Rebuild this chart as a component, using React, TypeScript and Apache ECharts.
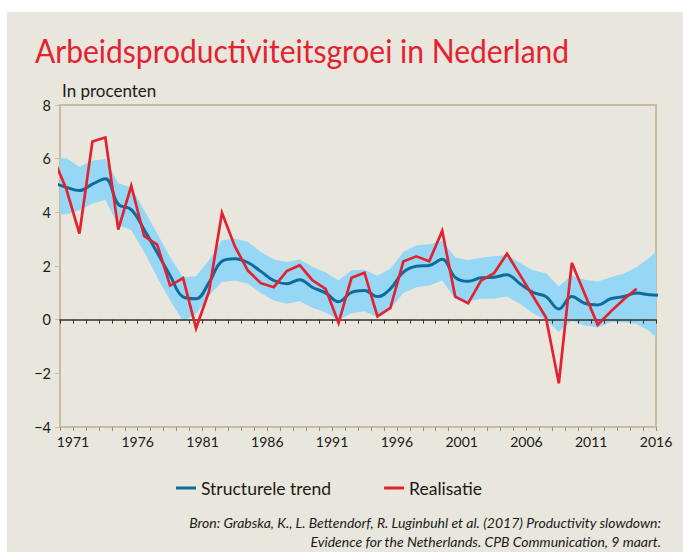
import React, { useEffect, useRef } from 'react';
import * as echarts from 'echarts';

// Years of the trend and its band (1970 and 2017 lie just outside the axis and are clipped)
const trendYears = [
  1970, 1971, 1972, 1973, 1974, 1975, 1976, 1977, 1978, 1979,
  1980, 1981, 1982, 1983, 1984, 1985, 1986, 1987, 1988, 1989,
  1990, 1991, 1992, 1993, 1994, 1995, 1996, 1997, 1998, 1999,
  2000, 2001, 2002, 2003, 2004, 2005, 2006, 2007, 2008, 2009,
  2010, 2011, 2012, 2013, 2014, 2015, 2016, 2017,
];
const trendValues = [
  5.1, 4.93, 4.81, 5.05, 5.25, 4.3, 4.1, 3.35, 2.5, 1.65,
  0.85, 0.78, 1.38, 2.18, 2.27, 2.13, 1.8, 1.46, 1.34, 1.49,
  1.2, 1.0, 0.67, 1.02, 1.09, 0.86, 1.15, 1.77, 1.99, 2.02,
  2.25, 1.58, 1.43, 1.56, 1.58, 1.67, 1.34, 1.02, 0.86, 0.4,
  0.86, 0.61, 0.55, 0.78, 0.86, 0.99, 0.93, 0.9,
];
const bandUpper = [
  6.02, 6.02, 5.7, 5.92, 5.99, 5.08, 4.93, 4.08, 3.21, 2.33,
  1.58, 1.62, 2.21, 2.96, 3.02, 2.9, 2.52, 2.24, 2.15, 2.24,
  1.96, 1.77, 1.46, 1.84, 1.86, 1.64, 1.9, 2.52, 2.77, 2.81,
  2.93, 2.33, 2.21, 2.31, 2.36, 2.4, 2.11, 1.84, 1.73, 1.24,
  1.65, 1.49, 1.42, 1.58, 1.71, 1.96, 2.3, 2.8,
];
const bandLower = [
  3.92, 3.92, 4.08, 4.33, 4.46, 3.52, 3.33, 2.52, 1.58, 0.71,
  -0.05, 0.21, 0.9, 1.4, 1.46, 1.34, 0.99, 0.71, 0.59, 0.69,
  0.44, 0.27, 0.0, 0.24, 0.31, 0.09, 0.4, 0.99, 1.21, 1.27,
  1.46, 0.78, 0.69, 0.78, 0.78, 0.86, 0.59, 0.24, -0.01, -0.45,
  -0.04, -0.22, -0.29, -0.1, -0.1, -0.16, -0.42, -0.9,
];

// Realised productivity growth (1970 lies just outside the axis and is clipped)
const realYears = [
  1970, 1971, 1972, 1973, 1974, 1975, 1976, 1977, 1978, 1979,
  1980, 1981, 1982, 1983, 1984, 1985, 1986, 1987, 1988, 1989,
  1990, 1991, 1992, 1993, 1994, 1995, 1996, 1997, 1998, 1999,
  2000, 2001, 2002, 2003, 2004, 2005, 2006, 2007, 2008, 2009,
  2010, 2011, 2012, 2013, 2014, 2015,
];
const realValues = [
  6.0, 4.85, 3.21, 6.64, 6.79, 3.36, 4.99, 3.11, 2.8, 1.27,
  1.55, -0.32, 1.05, 3.98, 2.73, 1.83, 1.36, 1.21, 1.81, 2.03,
  1.46, 1.15, -0.12, 1.56, 1.75, 0.12, 0.44, 2.17, 2.36, 2.18,
  3.31, 0.86, 0.61, 1.46, 1.73, 2.46, 1.67, 0.88, 0.09, -2.37,
  2.12, 0.96, -0.19, 0.3, 0.75, 1.15,
];

const xLabelYears = [1971, 1976, 1981, 1986, 1991, 1996, 2001, 2006, 2011, 2016];

const seriesNames = ['Structurele trend', 'Realisatie'];
const titleText = 'Arbeidsproductiviteitsgroei in Nederland';
const unitText = 'In procenten';
const sourceLines = [
  'Bron: Grabska, K., L. Bettendorf, R. Luginbuhl et al. (2017) Productivity slowdown:',
  'Evidence for the Netherlands. CPB Communication, 9 maart.',
];

// each year's value is drawn in the middle of its year band
const pos = (y: number) => y - 0.5;

const FONT = 'Lato, "Noto Sans", sans-serif';
const TAN = '#c9bb9f';
const DARK = '#3b2f28';
const BLUE = '#0d6c9b';
const RED = '#e4222f';
const BAND = '#96d7f5';

export default function App() {
  const ref = useRef<HTMLDivElement>(null);

  useEffect(() => {
    if (!ref.current) return;
    const chart = echarts.init(ref.current, undefined, { renderer: 'svg' });

    const option: any = {
      animation: false,
      textStyle: { fontFamily: FONT },
      grid: {
        left: 60,
        right: 27,
        top: 105,
        bottom: 125,
        show: true,
        borderColor: TAN,
        borderWidth: 2,
        backgroundColor: 'transparent',
      },
      xAxis: [
        {
          type: 'value',
          min: 1970,
          max: 2016,
          interval: 1,
          position: 'bottom',
          axisLine: { show: false, onZero: false },
          axisTick: { show: true, length: 4, lineStyle: { color: '#9c8e78', width: 1 } },
          axisLabel: {
            margin: 7,
            fontSize: 14,
            color: '#1a1a1a',
            fontFamily: FONT,
            showMinLabel: true,
            showMaxLabel: true,
            formatter: (v: number) => (xLabelYears.indexOf(v) >= 0 ? String(v) : ''),
          },
          splitLine: { show: false },
        },
        {
          type: 'value',
          min: 1970,
          max: 2016,
          interval: 1,
          position: 'bottom',
          z: 2,
          axisLine: { show: true, onZero: true, lineStyle: { color: DARK, width: 1.5 } },
          axisTick: { show: true, length: 4, lineStyle: { color: DARK, width: 1 } },
          axisLabel: { show: false },
          splitLine: { show: false },
        },
      ],
      yAxis: {
        type: 'value',
        min: -4,
        max: 8,
        interval: 2,
        axisLine: { show: true, lineStyle: { color: TAN, width: 2 } },
        axisTick: { show: true, length: 5, lineStyle: { color: TAN, width: 1 } },
        axisLabel: {
          margin: 9,
          fontSize: 14.5,
          color: '#1a1a1a',
          fontFamily: FONT,
          formatter: (v: number) => (v < 0 ? '\u2212' + Math.abs(v) : String(v)),
        },
        splitLine: { show: false },
      },
      legend: {
        left: 171,
        top: 474,
        itemWidth: 20,
        itemHeight: 3,
        itemGap: 53,
        icon: 'rect',
        data: seriesNames,
        textStyle: { fontSize: 17.5, color: '#1a1a1a', fontFamily: FONT },
      },
      graphic: [
        {
          type: 'text',
          x: 35,
          y: 50,
          scaleX: 0.91,
          style: {
            text: titleText,
            fill: RED,
            fontSize: 33,
            fontFamily: FONT,
            align: 'left',
            verticalAlign: 'middle',
          },
        },
        {
          type: 'text',
          x: 62,
          y: 90,
          style: {
            text: unitText,
            fill: '#1a1a1a',
            fontSize: 17,
            fontFamily: FONT,
            align: 'left',
            verticalAlign: 'middle',
          },
        },
        {
          type: 'text',
          x: 661,
          y: 522,
          style: {
            text: sourceLines[0],
            fill: '#1a1a1a',
            fontSize: 14,
            fontStyle: 'italic',
            fontFamily: FONT,
            align: 'right',
            verticalAlign: 'middle',
          },
        },
        {
          type: 'text',
          x: 661,
          y: 541,
          style: {
            text: sourceLines[1],
            fill: '#1a1a1a',
            fontSize: 14,
            fontStyle: 'italic',
            fontFamily: FONT,
            align: 'right',
            verticalAlign: 'middle',
          },
        },
      ],
      series: [
        {
          type: 'custom',
          z: 1,
          silent: true,
          clip: true,
          xAxisIndex: 0,
          yAxisIndex: 0,
          data: trendYears.map((y, i) => [pos(y), bandLower[i], bandUpper[i]]),
          encode: { x: 0, y: [1, 2] },
          renderItem: (params: any, api: any) => {
            if (params.dataIndex !== 1) return null;
            const up = trendYears.map((y, i) => api.coord([pos(y), bandUpper[i]]));
            const lo = trendYears.map((y, i) => api.coord([pos(y), bandLower[i]])).reverse();
            return {
              type: 'polygon',
              shape: { points: up.concat(lo) },
              style: { fill: BAND },
            };
          },
        },
        {
          name: seriesNames[0],
          type: 'line',
          z: 3,
          xAxisIndex: 0,
          smooth: 0.4,
          symbol: 'none',
          showSymbol: false,
          data: trendYears.map((y, i) => [pos(y), trendValues[i]]),
          lineStyle: { color: BLUE, width: 3 },
          itemStyle: { color: BLUE },
        },
        {
          name: seriesNames[1],
          type: 'line',
          z: 4,
          xAxisIndex: 0,
          symbol: 'none',
          showSymbol: false,
          data: realYears.map((y, i) => [pos(y), realValues[i]]),
          lineStyle: { color: RED, width: 2.7, join: 'miter' },
          itemStyle: { color: RED },
        },
      ],
    };

    chart.setOption(option);
    return () => chart.dispose();
  }, []);

  return (
    <div style={{ position: 'absolute', left: 0, top: 0, width: 683, height: 552, background: '#ffffff' }}>
      <div style={{ position: 'absolute', left: 7, top: 12, width: 676, height: 540, background: '#e8e6dd' }} />
      <div ref={ref} style={{ position: 'absolute', left: 0, top: 0, width: 683, height: 552 }} />
    </div>
  );
}
